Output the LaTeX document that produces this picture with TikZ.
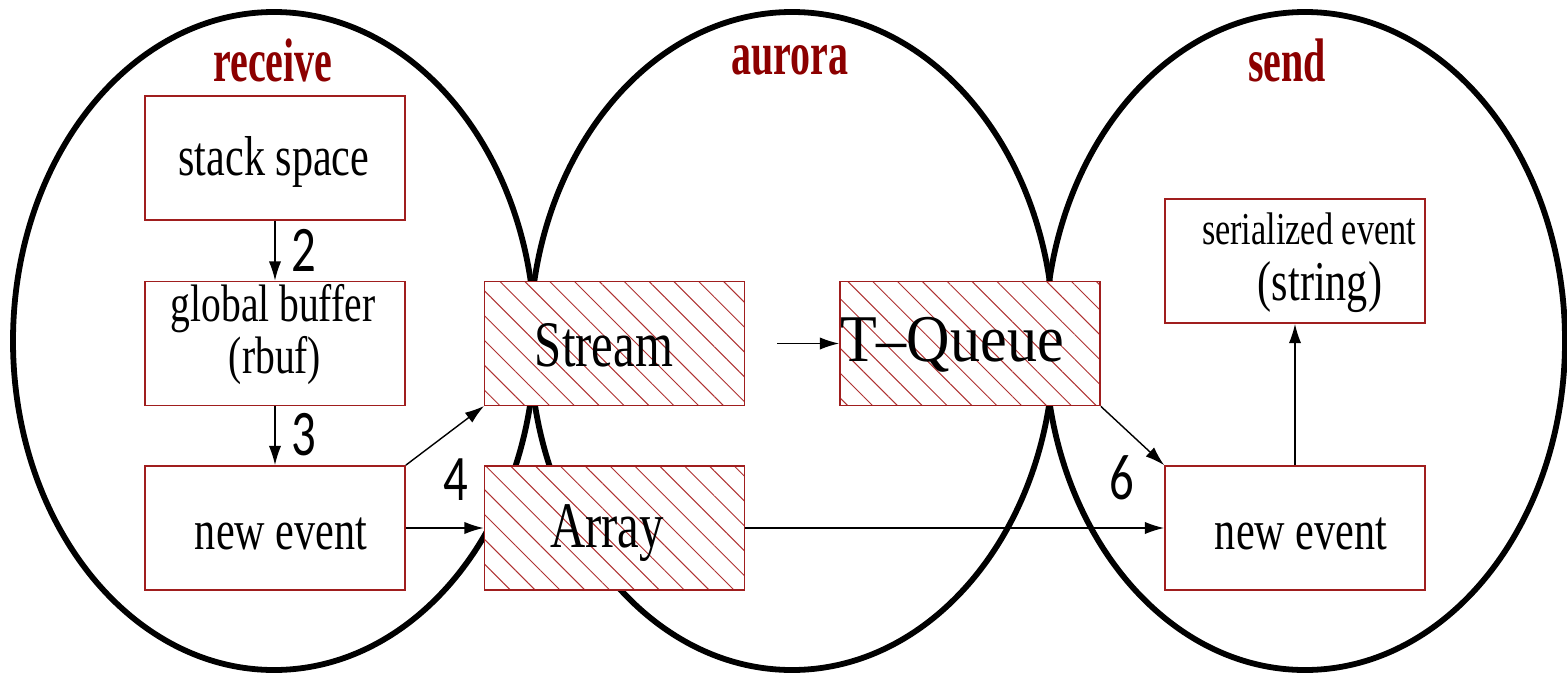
\documentclass[tikz,border=0pt]{standalone}
\usepackage{fontspec}
\setmainfont{Liberation Serif}
\newfontfamily\bxfont[FakeStretch=0.75]{Liberation Serif}
\newfontfamily\tqfont[FakeStretch=0.9]{Liberation Serif}
\newfontfamily\ttlfont[FakeStretch=0.65]{Liberation Serif}
\newfontfamily\numfont[FakeStretch=0.75]{Carlito}
\usetikzlibrary{arrows.meta,patterns.meta}
\definecolor{boxred}{RGB}{160,30,30}
\definecolor{hatchred}{RGB}{175,50,50}
\definecolor{ttlred}{RGB}{140,0,0}
\tikzset{
  ell/.style={draw=black,line width=3.3pt},
  box/.style={draw=boxred,line width=1pt,fill=white,minimum width=5.2cm,minimum height=2.48cm,inner sep=0pt},
  hatchbox/.style={box,fill=none,preaction={fill=white},pattern={Lines[angle=-45,distance=10pt,line width=0.55pt]},pattern color=hatchred},
  lbl/.style={inner sep=0pt,font=\bxfont\fontsize{32}{34}\selectfont},
  biglbl/.style={inner sep=0pt,font=\bxfont\fontsize{37}{40}\selectfont},
  ttl/.style={text=ttlred,font=\ttlfont\bfseries\fontsize{35}{40}\selectfont},
  num/.style={inner sep=0pt,font=\numfont\fontsize{37}{40}\selectfont},
  arr/.style={-{Latex[length=11pt,width=7pt]},line width=0.8pt}
}
\begin{document}
\begin{tikzpicture}[x=0.02cm,y=-0.02cm]
\useasboundingbox (0,0) rectangle (1567,676);
% ellipses
\draw[ell] (274,341) ellipse [x radius=261, y radius=329];
\draw[ell] (792,341) ellipse [x radius=262, y radius=329];
\draw[ell] (1305,341) ellipse [x radius=260, y radius=329];
% titles
\node[ttl] (treceive) at (273,60) {receive};
\node[ttl] (taurora) at (790,60) {aurora};
\node[ttl] (tsend) at (1287,60) {send};
% boxes
\node[box] (stack) at (275,158) {};
\node[lbl] (stacktxt) at (274,162) {stack space};
\node[box] (gbuf) at (275,343.5) {};
\node[lbl,font=\bxfont\fontsize{30}{34}\selectfont] (gbuftxt1) at (273,309) {global buffer};
\node[lbl,font=\bxfont\fontsize{30}{34}\selectfont] (gbuftxt2) at (275,361) {(rbuf)};
\node[box] (newl) at (275,528) {};
\node[lbl] (newltxt) at (281,534) {new event};
\node[hatchbox] (stream) at (614.5,343.5) {};
\node[biglbl] (streamtxt) at (604,345) {Stream};
\node[hatchbox] (array) at (614.5,528) {};
\node[biglbl] (arraytxt) at (607,533) {Array};
\node[hatchbox] (tqueue) at (970,343.5) {};
\node[biglbl,font=\tqfont\fontsize{38}{40}\selectfont] (tqueuetxt) at (952,345) {T–Queue};
\node[box] (serial) at (1295,261) {};
\node[lbl,font=\bxfont\fontsize{26}{30}\selectfont] (serialtxt1) at (1309,229) {serialized event};
\node[lbl] (serialtxt2) at (1320,287) {(string)};
\node[box] (newr) at (1295,528) {};
\node[lbl] (newrtxt) at (1301,534) {new event};
% connectors
\draw[arr] (stack) -- (gbuf);
\draw[arr] (gbuf) -- (newl);
\draw[arr] (newl.north east) -- (stream.south west);
\draw[arr] (newl) -- (array);
\coordinate (sq) at (777,343.5);
\draw[arr] (sq) -- (tqueue);
\draw[arr] (tqueue.south east) -- (newr.north west);
\draw[arr] (array) -- (newr);
\draw[arr] (newr) -- (serial);
% numbers
\node[num] (n2) at (304,250) {2};
\node[num] (n3) at (304,435) {3};
\node[num] (n4) at (456,480) {4};
\node[num] (n6) at (1122,478) {6};
\end{tikzpicture}
\end{document}
